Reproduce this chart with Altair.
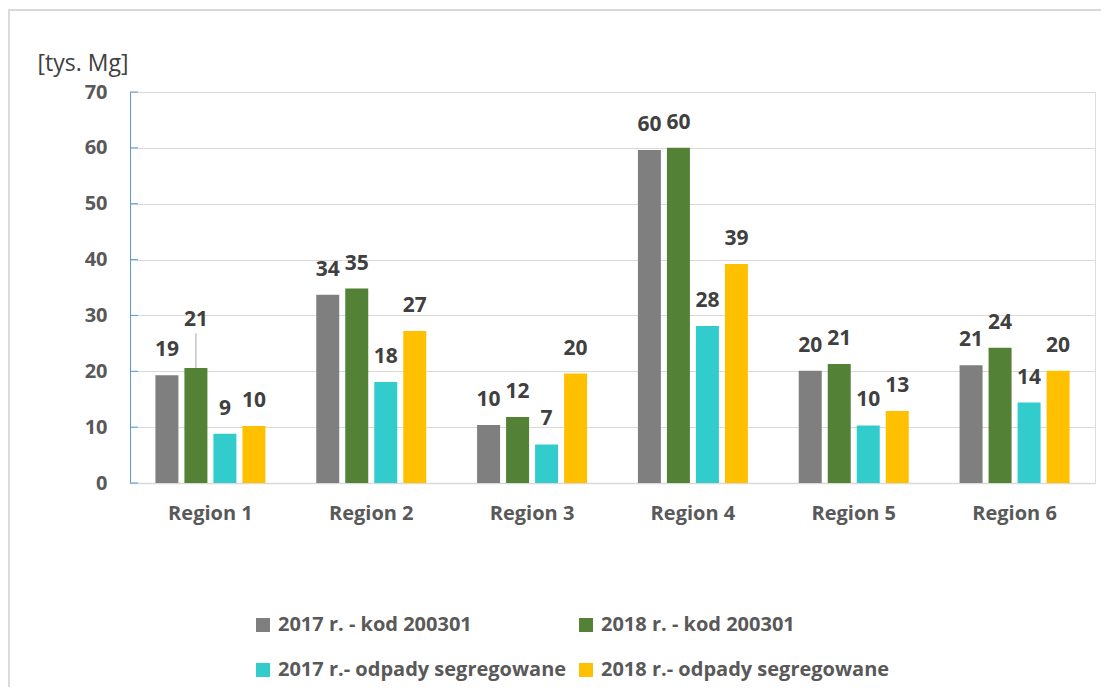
import altair as alt
import pandas as pd

regions = ["Region 1", "Region 2", "Region 3", "Region 4", "Region 5", "Region 6"]
series = [
    "2017 r. - kod 200301",
    "2018 r. - kod 200301",
    "2017 r.- odpady segregowane",
    "2018 r.- odpady segregowane",
]
kod_2017 = [19.3, 33.7, 10.4, 59.6, 20.1, 21.1]
kod_2018 = [20.6, 34.8, 11.8, 60.0, 21.3, 24.2]
seg_2017 = [8.8, 18.1, 6.9, 28.1, 10.3, 14.4]
seg_2018 = [10.2, 27.2, 19.6, 39.2, 12.9, 20.1]
colors = ["#7F7F7F", "#538135", "#33CCCC", "#FFC000"]
y_ticks = [0, 10, 20, 30, 40, 50, 60, 70]

rows = []
for s, vals in zip(series, [kod_2017, kod_2018, seg_2017, seg_2018]):
    for r, v in zip(regions, vals):
        rows.append({"region": r, "series": s, "value": v})
df = pd.DataFrame(rows)
ticks_df = pd.DataFrame({"tick": y_ticks})

# legend is laid out column-first, so order the colour domain accordingly
legend_order = [series[0], series[2], series[1], series[3]]
legend_colors = [colors[0], colors[2], colors[1], colors[3]]

FONT = "Open Sans"
W, H = 965, 391

x_enc = alt.X(
    "region:N",
    sort=regions,
    scale=alt.Scale(paddingInner=0, paddingOuter=0),
    axis=alt.Axis(
        title=None, ticks=False, domainColor="#D9D9D9", domainWidth=1.5,
        labelFontSize=20, labelFontWeight="bold", labelColor="#595959",
        labelPadding=20, labelFont=FONT, labelAngle=0,
    ),
)
xo_enc = alt.XOffset("series:N", sort=series,
                     scale=alt.Scale(paddingInner=0.207, paddingOuter=0.876))
y_enc = alt.Y(
    "value:Q",
    scale=alt.Scale(domain=[0, 70], nice=False),
    axis=alt.Axis(
        values=y_ticks, ticks=False, domainColor="#5B9BD5", gridColor="#D9D9D9",
        labelFontSize=20, labelFontWeight="bold", labelColor="#595959",
        labelPadding=23, labelFont=FONT,
        title="[tys. Mg]", titleAngle=0, titleAlign="left", titleBaseline="middle",
        titleX=-93, titleY=-29, titleFontSize=23, titleFontWeight="normal",
        titleColor="#404040", titleFont=FONT,
    ),
)

base = alt.Chart(df).encode(x=x_enc, xOffset=xo_enc)

border = alt.Chart(ticks_df).mark_rect(
    fill=None, stroke="#D9D9D9", strokeWidth=1.5
).encode(x=alt.value(-121.5), x2=alt.value(W + 30), y=alt.value(-82), y2=alt.value(H + 250))

bars = base.mark_bar().encode(
    y=y_enc,
    color=alt.Color(
        "series:N",
        scale=alt.Scale(domain=legend_order, range=legend_colors),
        legend=alt.Legend(
            title=None, orient="none", legendX=123, legendY=523, columns=2,
            columnPadding=9, rowPadding=25, symbolType="square", symbolSize=196,
            symbolStrokeWidth=0, labelFontSize=20, labelFontWeight="bold",
            labelColor="#595959", labelFont=FONT, labelOffset=5, padding=0,
            labelLimit=400,
        ),
    ),
)

is_special = "datum.region == 'Region 1' && datum.series == '2018 r. - kod 200301'"

labels = base.mark_text(
    dy=-25, fontSize=21, fontWeight="bold", color="#404040", font=FONT
).encode(y="value:Q", text=alt.Text("value:Q", format=".0f")).transform_filter(
    "!(" + is_special + ")"
)
special_label = base.mark_text(
    dy=-48, fontSize=21, fontWeight="bold", color="#404040", font=FONT
).encode(y="value:Q", text=alt.Text("value:Q", format=".0f")).transform_filter(is_special)
leader = base.mark_rule(color="#A6A6A6", strokeWidth=1).encode(
    y="value:Q", y2="top:Q"
).transform_filter(is_special).transform_calculate(top="datum.value + 6.2")

inner_ticks = alt.Chart(ticks_df).mark_rule(color="#5B9BD5", strokeWidth=1).encode(
    y="tick:Q", x=alt.value(0), x2=alt.value(8)
)

chart = alt.layer(border, bars, leader, labels, special_label, inner_ticks).properties(
    width=W, height=H,
    autosize=alt.AutoSizeParams(type="none"),
    padding={"left": 122, "top": 84, "right": 6, "bottom": 204},
).configure_view(stroke=None).configure(font=FONT, background="white")

chart.save("out.html", embed_options={"renderer": "svg", "actions": False})
